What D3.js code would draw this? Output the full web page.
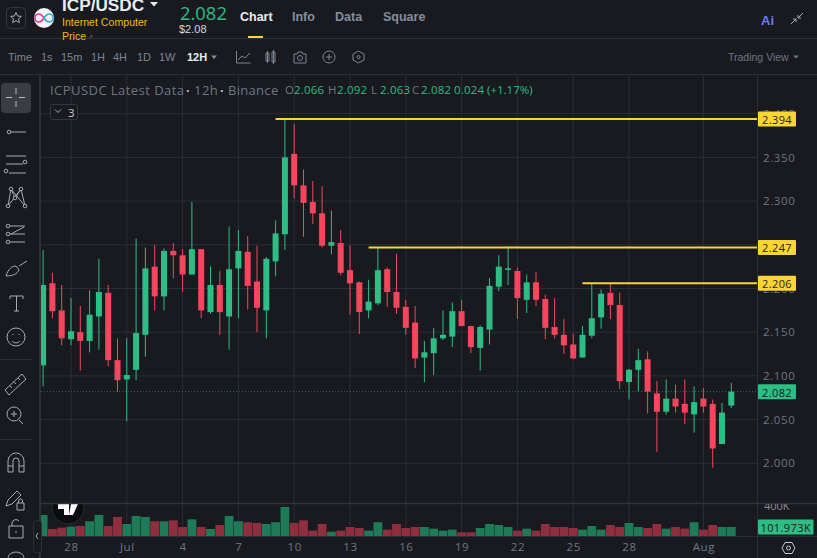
<!DOCTYPE html>
<html>
<head>
<meta charset="utf-8">
<script src="https://cdn.jsdelivr.net/npm/d3@7"></script>
<style>
html, body { margin: 0; padding: 0; background: #181a20; overflow: hidden; }
svg { display: block; font-family: "Liberation Sans", Arial, sans-serif; }
.axis text { font-size: 11.5px; fill: #6f7683; letter-spacing: .6px; font-family: "Open Sans", sans-serif; }
.axis path, .axis line { display: none; }
.icon { fill: none; stroke: #a6abb3; stroke-width: 1; }
</style>
</head>
<body>
<svg id="chart" width="817" height="558"></svg>
<script>
const opens = [2.112,2.206,2.175,2.142,2.150,2.140,2.168,2.195,2.118,2.096,2.107,2.147,2.225,2.191,2.243,2.238,2.216,2.245,2.173,2.204,2.168,2.223,2.242,2.208,2.175,2.231,2.262,2.354,2.318,2.299,2.286,2.249,2.252,2.221,2.207,2.175,2.183,2.222,2.196,2.179,2.161,2.121,2.126,2.143,2.145,2.174,2.157,2.132,2.153,2.202,2.222,2.220,2.187,2.207,2.188,2.156,2.147,2.136,2.121,2.146,2.167,2.195,2.181,2.093,2.107,2.119,2.080,2.059,2.074,2.068,2.056,2.074,2.068,2.022,2.066]
const highs = [2.244,2.218,2.204,2.189,2.180,2.198,2.234,2.204,2.143,2.143,2.257,2.247,2.250,2.246,2.252,2.245,2.299,2.245,2.225,2.220,2.271,2.267,2.260,2.249,2.236,2.278,2.394,2.388,2.336,2.323,2.317,2.289,2.267,2.249,2.208,2.210,2.247,2.224,2.240,2.187,2.180,2.140,2.155,2.175,2.184,2.187,2.157,2.158,2.212,2.238,2.248,2.224,2.216,2.219,2.193,2.189,2.165,2.148,2.157,2.206,2.199,2.206,2.195,2.108,2.131,2.128,2.094,2.096,2.090,2.096,2.088,2.086,2.073,2.069,2.092]
const lows = [2.088,2.166,2.135,2.135,2.106,2.127,2.130,2.111,2.082,2.048,2.095,2.122,2.175,2.175,2.212,2.196,2.216,2.166,2.171,2.147,2.130,2.166,2.176,2.150,2.143,2.214,2.244,2.303,2.259,2.274,2.247,2.239,2.215,2.170,2.148,2.166,2.181,2.179,2.171,2.147,2.109,2.093,2.101,2.141,2.133,2.157,2.126,2.106,2.136,2.197,2.204,2.165,2.172,2.180,2.142,2.143,2.125,2.119,2.121,2.143,2.154,2.165,2.085,2.073,2.082,2.057,2.013,2.056,2.058,2.045,2.035,2.058,1.995,2.022,2.063]
const closes = [2.204,2.174,2.143,2.151,2.140,2.170,2.196,2.118,2.095,2.101,2.149,2.223,2.191,2.243,2.238,2.216,2.245,2.175,2.204,2.173,2.222,2.243,2.203,2.178,2.234,2.263,2.350,2.318,2.298,2.286,2.249,2.253,2.218,2.206,2.173,2.185,2.221,2.196,2.178,2.155,2.120,2.127,2.143,2.147,2.174,2.157,2.133,2.156,2.203,2.225,2.223,2.189,2.207,2.187,2.155,2.147,2.135,2.120,2.147,2.166,2.194,2.181,2.094,2.107,2.118,2.082,2.059,2.074,2.065,2.058,2.070,2.065,2.017,2.058,2.082]
const volumes = [234,80,95,106,113,165,234,113,212,135,223,212,165,165,175,102,186,102,80,124,223,165,154,146,135,154,322,146,175,62,135,51,62,102,91,62,154,73,135,91,102,102,84,62,73,44,44,91,135,124,102,62,84,62,135,102,102,91,73,113,73,124,102,146,102,91,135,84,102,84,154,73,124,102,102]

const priceTicks = [2.000,2.050,2.100,2.150,2.200,2.250,2.300,2.350,2.400]
const timeTickIdx = [3,9,15,21,27,33,39,45,51,57,63,71]
const timeTickLabels = ['28','Jul','4','7','10','13','16','19','22','25','28','Aug']
const markedLevels = [2.394,2.247,2.206]
const markedFrom = [25,35,58]
const lastPrice = 2.082
const lastVolume = '101.973K'

const GREEN = '#2ebd85', RED = '#f6465d', GRID = '#2a2e37', BG = '#181a20', YELLOW = '#fcd535', MUTED = '#848e9c'

const svg = d3.select('#chart')
const plotRight = 757

const x = d3.scaleLinear().domain([0, 74]).range([43.1, 731.3])
const y = d3.scaleLinear().domain([2, 2.4]).range([463.3, 113.7])
const yVol = d3.scaleLinear().domain([0, 400]).range([536.3, 499.8])

function txt(parent, s, px, py, size, fill, opts) {
    opts = opts || {}
    return parent.append('text').attr('x', px).attr('y', py)
        .attr('font-size', size).attr('fill', fill)
        .attr('font-weight', opts.weight || null)
        .attr('letter-spacing', opts.ls || null)
        .attr('font-family', opts.family || null)
        .attr('text-anchor', opts.anchor || null)
        .attr('dominant-baseline', 'central')
        .text(s)
}

// grid
const grid = svg.append('g')
grid.selectAll('line.v').data(timeTickIdx).join('line')
    .attr('x1', d => x(d)).attr('x2', d => x(d))
    .attr('y1', 75).attr('y2', 536).attr('stroke', GRID)
grid.selectAll('line.h').data(priceTicks).join('line')
    .attr('x1', 41).attr('x2', plotRight)
    .attr('y1', d => y(d)).attr('y2', d => y(d)).attr('stroke', GRID)

// volume pane
svg.append('g').selectAll('rect').data(volumes).join('rect')
    .attr('x', (d, i) => x(i) - 4.4).attr('width', 8.8)
    .attr('y', d => yVol(d)).attr('height', d => yVol(0) - yVol(d))
    .attr('fill', (d, i) => closes[i] >= opens[i] ? '#1f7a58' : '#8f2f3e')

// tradingview badge
svg.append('clipPath').attr('id', 'tvclip').append('rect').attr('x', 41).attr('y', 504).attr('width', 60).attr('height', 40)
const tv = svg.append('g').attr('clip-path', 'url(#tvclip)')
tv.append('circle').attr('cx', 68).attr('cy', 508).attr('r', 16).attr('fill', '#0b0c0f').attr('stroke', '#2a2c31')
tv.append('path').attr('fill', '#fff').attr('d', 'M58 504h11v11h-5v-6h-6zM71 504h7l-5 11h-4z')

// candles
const idx = d3.range(opens.length)
const candles = svg.append('g')
candles.selectAll('line').data(idx).join('line')
    .attr('x1', i => x(i)).attr('x2', i => x(i))
    .attr('y1', i => y(highs[i])).attr('y2', i => y(lows[i]))
    .attr('stroke', i => closes[i] >= opens[i] ? GREEN : RED)
candles.selectAll('rect').data(idx).join('rect')
    .attr('x', i => x(i) - 3).attr('width', 6)
    .attr('y', i => y(Math.max(opens[i], closes[i])))
    .attr('height', i => Math.max(1.5, Math.abs(y(opens[i]) - y(closes[i]))))
    .attr('fill', i => closes[i] >= opens[i] ? GREEN : RED)

// last price dotted line
svg.append('line').attr('x1', 41).attr('x2', plotRight)
    .attr('y1', y(lastPrice)).attr('y2', y(lastPrice))
    .attr('stroke', GREEN).attr('stroke-opacity', .55).attr('stroke-dasharray', '1 2')

// pane separator and axis lines
svg.append('line').attr('x1', 41).attr('x2', 817).attr('y1', 503.5).attr('y2', 503.5).attr('stroke', '#2f333c').attr('stroke-width', 1.5)
svg.append('line').attr('x1', 41).attr('x2', 817).attr('y1', 536.5).attr('y2', 536.5).attr('stroke', GRID)
svg.append('line').attr('x1', plotRight + .5).attr('x2', plotRight + .5).attr('y1', 75).attr('y2', 558).attr('stroke', GRID)

// axes
svg.append('g').attr('class', 'axis').attr('transform', `translate(${plotRight},0)`)
    .call(d3.axisRight(y).tickValues(priceTicks).tickFormat(d3.format('.3f')).tickSize(0).tickPadding(6))
svg.append('g').attr('class', 'axis').attr('transform', 'translate(0,543)')
    .call(d3.axisBottom(x).tickValues(timeTickIdx).tickFormat((d, i) => timeTickLabels[i]).tickSize(0).tickPadding(0))

// clipped 400K volume label
svg.append('clipPath').attr('id', 'volclip').append('rect').attr('x', 758).attr('y', 504).attr('width', 59).attr('height', 30)
txt(svg.append('g').attr('clip-path', 'url(#volclip)'), '400K', 764, 505, 11, MUTED, {family: '"Open Sans", sans-serif'})

// marked levels
const levels = svg.append('g')
levels.selectAll('line').data(markedLevels).join('line')
    .attr('x1', (d, i) => x(markedFrom[i])).attr('x2', plotRight)
    .attr('y1', d => y(d)).attr('y2', d => y(d))
    .attr('stroke', YELLOW).attr('stroke-width', 2)

function priceTag(v, label, fill) {
    const w = label.length > 5 ? 55.5 : 38
    const cy = v === null ? 527 : y(v)
    svg.append('rect').attr('x', 758).attr('y', cy - 7.5).attr('width', w).attr('height', 15).attr('rx', 1).attr('fill', fill)
    txt(svg, label, 758 + w / 2, cy + .5, 11, '#1a1c20', {anchor: 'middle', ls: '.4px', family: '"Open Sans", sans-serif'})
}
markedLevels.forEach(v => priceTag(v, d3.format('.3f')(v), YELLOW))
priceTag(lastPrice, d3.format('.3f')(lastPrice), GREEN)
priceTag(null, lastVolume, GREEN)

// legend
const LEG = '"Open Sans", sans-serif'
txt(svg, 'ICPUSDC Latest Data', 50, 90, 13, '#6f7683', {family: LEG, ls: '.45px'})
txt(svg, '·', 186, 90, 13, '#b7bdc6', {weight: 700})
txt(svg, '12h', 194, 90, 13, '#6f7683', {family: LEG, ls: '.5px'})
txt(svg, '·', 220, 90, 13, '#b7bdc6', {weight: 700})
txt(svg, 'Binance', 228, 90, 13, '#6f7683', {family: LEG, ls: '.3px'})
const ohlc = [['O', '2.066', 285], ['H', '2.092', 328], ['L', '2.063', 371], ['C', '2.082', 412]]
ohlc.forEach(d => {
    txt(svg, d[0], d[2], 89, 11.5, '#6f7683', {family: LEG})
    txt(svg, d[1], d[2] + 9, 89, 11.5, GREEN, {family: LEG, ls: '.2px'})
})
txt(svg, '0.024', 454, 89, 11.5, GREEN, {family: LEG, ls: '.2px'})
txt(svg, '(+1.17%)', 487, 89, 11.5, GREEN, {family: LEG})
svg.append('rect').attr('x', 50.5).attr('y', 104.5).attr('width', 27).attr('height', 15).attr('rx', 2).attr('fill', BG).attr('stroke', '#33373f')
svg.append('path').attr('class', 'icon').attr('d', 'M55 109.5l3 3 3-3').attr('stroke', '#c6c9ce')
txt(svg, '3', 68, 112, 11.5, '#c6c9ce', {family: LEG})

// header
svg.append('rect').attr('width', 817).attr('height', 75).attr('fill', BG)
svg.append('line').attr('x1', 0).attr('x2', 817).attr('y1', 38.5).attr('y2', 38.5).attr('stroke', '#2b3039')
svg.append('line').attr('x1', 0).attr('x2', 817).attr('y1', 74.5).attr('y2', 74.5).attr('stroke', '#2b3039')

svg.append('rect').attr('x', 6.5).attr('y', 7.5).attr('width', 19).attr('height', 21).attr('rx', 4).attr('fill', 'none').attr('stroke', '#33373f')
svg.append('path').attr('class', 'icon').attr('d', 'M16 12.5l1.6 3.5 3.8.4-2.9 2.5.9 3.7-3.4-2-3.4 2 .9-3.7-2.9-2.5 3.8-.4z')
svg.append('circle').attr('cx', 44).attr('cy', 18).attr('r', 10).attr('fill', '#f4f4f6')
svg.append('path').attr('fill', 'none').attr('stroke', '#e5318f').attr('stroke-width', 1.6).attr('d', 'M44 18c-2-3-3-4-5-4a4 4 0 0 0 0 8c2 0 3-1 5-4')
svg.append('path').attr('fill', 'none').attr('stroke', '#29abe2').attr('stroke-width', 1.6).attr('d', 'M44 18c2 3 3 4 5 4a4 4 0 0 0 0-8c-2 0-3 1-5 4')

txt(svg, 'ICP/USDC', 62, 5, 17.2, '#eaecef', {weight: 700})
svg.append('path').attr('fill', '#eaecef').attr('d', 'M150 2h8l-4 4.5z')
txt(svg, 'Internet Computer', 62, 22, 10.6, '#f0b90b')
txt(svg, 'Price', 62, 36, 10.6, '#f0b90b')
txt(svg, '↗', 88, 37, 6, '#a0853a')
txt(svg, '2.082', 180, 12, 18.4, GREEN, {family: LEG, weight: 500})
txt(svg, '$2.08', 179, 29, 11, '#d5d8dd')
txt(svg, 'Chart', 240, 17, 12.5, '#eaecef', {weight: 700})
txt(svg, 'Info', 292, 17, 12.5, MUTED, {weight: 700})
txt(svg, 'Data', 335, 17, 12.5, MUTED, {weight: 700})
txt(svg, 'Square', 383, 17, 12.5, MUTED, {weight: 700})
svg.append('rect').attr('x', 248).attr('y', 36).attr('width', 15).attr('height', 2).attr('fill', YELLOW)
txt(svg, 'Ai', 761, 20, 13, '#6b7cf2', {weight: 700})
svg.append('path').attr('class', 'icon').attr('stroke', '#6f7683').attr('d', 'M791 24l5-5m0 0v3m0-3h-3M803 13l-5 5m0 0v-3m0 3h3')

// timeframe row
const frames = [['Time', 8], ['1s', 41], ['15m', 61], ['1H', 91], ['4H', 113], ['1D', 137], ['1W', 159]]
frames.forEach(d => txt(svg, d[0], d[1], 57, 11, '#7d8593'))
txt(svg, '12H', 187, 57, 11, '#eaecef', {weight: 700})
svg.append('path').attr('fill', '#848e9c').attr('d', 'M211 55.5h6l-3 3.5z')
svg.append('g').selectAll('path').data([
    'M236.5 51v12h14M238 60l4-4 3 2 5-5',
    'M266 53v8h3v-8zM267.500 51v12M272 52v10h3v-10zM273.500 50v14',
    'M294 54h3l1-2h4l1 2h3v9h-12zM302.500 58a2.500 2.500 0 1 1-5 0 2.500 2.500 0 1 1 5 0',
    'M335 57a6 6 0 1 1-12 0 6 6 0 1 1 12 0M329 54v6M326 57h6',
    'M358.500 51l5.500 3v6l-5.500 3-5.500-3v-6zM360 57a1.500 1.500 0 1 1-3 0 1.500 1.500 0 1 1 3 0'
]).join('path').attr('class', 'icon').attr('d', d => d).style('stroke', '#7d8593')
txt(svg, 'Trading View', 728, 57, 10.5, '#6f7683')
svg.append('path').attr('fill', '#6f7683').attr('d', 'M793 55.500h6l-3 3z')

// left drawing toolbar
svg.append('rect').attr('y', 75).attr('width', 40).attr('height', 483).attr('fill', BG)
svg.append('line').attr('x1', 40).attr('x2', 40).attr('y1', 75).attr('y2', 558).attr('stroke', '#2d3038').attr('stroke-width', 2)
svg.append('rect').attr('x', 1).attr('y', 83).attr('width', 30).attr('height', 30).attr('rx', 4).attr('fill', '#3b3d42')
svg.append('path').attr('stroke', '#b8bbc0').attr('fill', 'none').attr('d', 'M16 88v6M16 101v6M6 97.500h6M19 97.500h6')
const toolPaths = [
    'M11 132h15',
    'M6 156h20M6 164h17M9 173h17',
    'M8 206l3-17 4 9 6-9 4 17M8 206l13-17M11 189l14 17',
    'M10 226h15M10 234h15M10 242h15M11 234l13-7',
    'M6 276c2-7 6-10 10-10l3 4c-2 4-6 6-13 6zM19 266l8-5',
    'M10 296v3M10 296h13v3M16.500 296v15M14 311h5',
    'M25 337a9 9 0 1 1-18 0 9 9 0 1 1 18 0M12 341c2 2.500 6 2.500 8 0M13 334v1M19 334v1',
    'M5 390l17-16 4 5-17 16zM10 386l2 2M14 382l2 2M18 378l2 2',
    'M21 414a7 7 0 1 1-14 0 7 7 0 1 1 14 0M14 411v6M11 414h6M19 420l4 4',
    'M8 472v-11a8 8 0 0 1 16 0v11h-5v-11a3 3 0 0 0-6 0v11zM8 466h5M19 466h5',
    'M6 506l2-6 9-9 4 4-9 9zM17 503h7v7h-7zM18.500 503v-2a2 2 0 0 1 4 0v2',
    'M9 526h14v12h-14zM12 526v-3a4 4 0 0 1 7-2M16 531v2',
    'M8 558a8 6 0 0 1 16 0'
]
svg.append('g').selectAll('path').data(toolPaths).join('path').attr('class', 'icon').attr('d', d => d)
// little handle dots on the drawing tools
const toolDots = [[9,132],[25,162],[6,171],[8,206],[11,189],[15,198],[21,189],[25,206],[8,226],[8,234],[8,242]]
svg.append('g').selectAll('circle').data(toolDots).join('circle').attr('class', 'icon')
    .attr('cx', d => d[0]).attr('cy', d => d[1]).attr('r', 1.8).style('fill', BG)
svg.selectAll('.sep').data([359.5, 439.5]).join('line').attr('class', 'sep')
    .attr('x1', 0).attr('x2', 32).attr('y1', d => d).attr('y2', d => d).attr('stroke', '#2d3038')
svg.append('rect').attr('x', 33.5).attr('y', 520.5).attr('width', 8).attr('height', 32).attr('rx', 3).attr('fill', BG).attr('stroke', '#2d3038')
svg.append('path').attr('class', 'icon').attr('d', 'M38 533l-2 3 2 3')

// settings hexagon bottom right
svg.append('path').attr('class', 'icon').style('stroke', '#c6c9ce').attr('d', 'M782 548l3-5.500h7l3 5.500-3 5.500h-7zM790.500 548a2 2 0 1 1-4 0 2 2 0 1 1 4 0')
</script>
</body>
</html>
